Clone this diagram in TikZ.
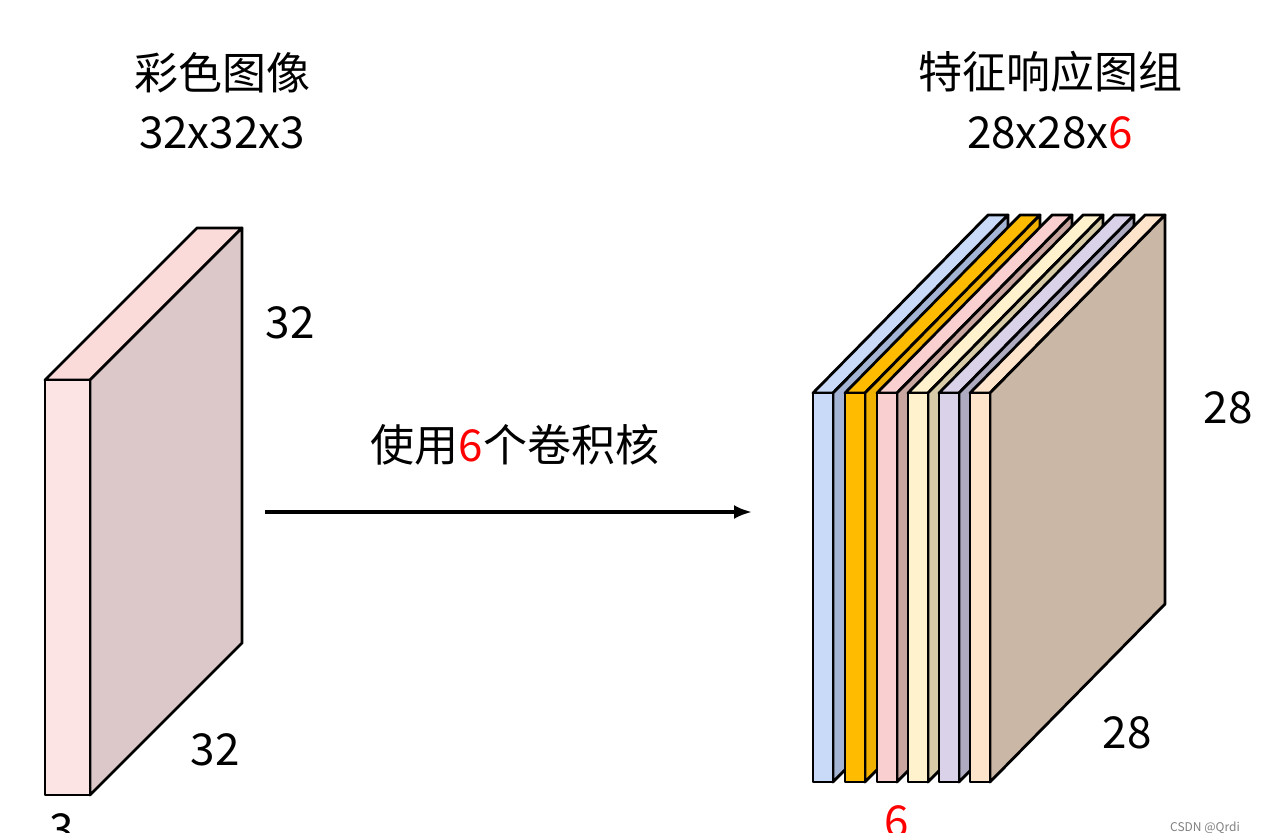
\documentclass[tikz,border=0pt]{standalone}
\usepackage{fontspec}
\setmainfont{Noto Sans CJK SC}
\usetikzlibrary{arrows.meta}
\begin{document}
\begin{tikzpicture}[x=1pt,y=-1pt,line join=round,
  face/.style={draw=black,line width=2.8pt},
  lbl/.style={font=\fontsize{44}{48}\selectfont,inner sep=0pt}]
\useasboundingbox (0,0) rectangle (1276,832);
\fill[white] (0,0) rectangle (1276,832);
% left box
\def\dx{152}\def\dy{-152}
\draw[face,fill={rgb,255:red,251;green,218;blue,218}] (45,380) -- (90,380) -- ++(\dx,\dy) -- ++(-45,0) -- cycle;
\draw[face,fill={rgb,255:red,220;green,200;blue,200}] (90,380) -- ++(\dx,\dy) -- ++(0,415) -- (90,795) -- cycle;
\draw[face,fill={rgb,255:red,252;green,228;blue,228}] (45,380) rectangle (90,795);
% right stack
\newcommand{\slab}[3]{%
  \draw[face,fill=#2] (#1,393) -- ++(20,0) -- ++(175,-178) -- ++(-20,0) -- cycle;
  \draw[face,fill=#3] (#1+20,393) -- ++(175,-178) -- ++(0,389) -- (#1+20,782) -- cycle;
  \draw[face,fill=#2] (#1,393) rectangle (#1+20,782);}
\definecolor{c1}{RGB}{201,218,248}\definecolor{s1}{RGB}{164,180,212}
\definecolor{c2}{RGB}{255,187,0}\definecolor{s2}{RGB}{240,176,0}
\definecolor{c3}{RGB}{250,207,207}\definecolor{s3}{RGB}{201,167,160}
\definecolor{c4}{RGB}{255,242,204}\definecolor{s4}{RGB}{216,204,168}
\definecolor{c5}{RGB}{217,210,233}\definecolor{s5}{RGB}{174,170,192}
\definecolor{c6}{RGB}{255,228,204}\definecolor{s6}{RGB}{203,183,166}
\slab{813}{c1}{s1}
\slab{845}{c2}{s2}
\slab{877}{c3}{s3}
\slab{908}{c4}{s4}
\slab{939}{c5}{s5}
\slab{970}{c6}{s6}
% texts
\node[lbl] (t1) at (222,73) {彩色图像};
\node[lbl] (t2) at (222,133) {32x32x3};
\node[lbl] (t3) at (1050,72) {特征响应图组};
\node[lbl] (t4) at (1050,133) {28x28x\textcolor{red}{6}};
\node[lbl] (a) at (290,323) {32};
\node[lbl] (b) at (215,750) {32};
\node[lbl] (c) at (62,830) {3};
\node[lbl] (d) at (1228,408) {28};
\node[lbl] (e) at (1127,733) {28};
\node[lbl,text=red] (f) at (897,822) {6};
\node[lbl] (m) at (515,445) {使用\textcolor{red}{6}个卷积核};
\coordinate (p) at (265,512); \coordinate (q) at (752,512);
\draw[line width=3.5pt,-{Latex[length=18pt,width=14pt]}] (p) -- (q);
\node[font=\fontsize{12}{12}\selectfont,text=gray,inner sep=0pt] (w) at (1205,828) {CSDN @Qrdi};
\end{tikzpicture}
\end{document}
